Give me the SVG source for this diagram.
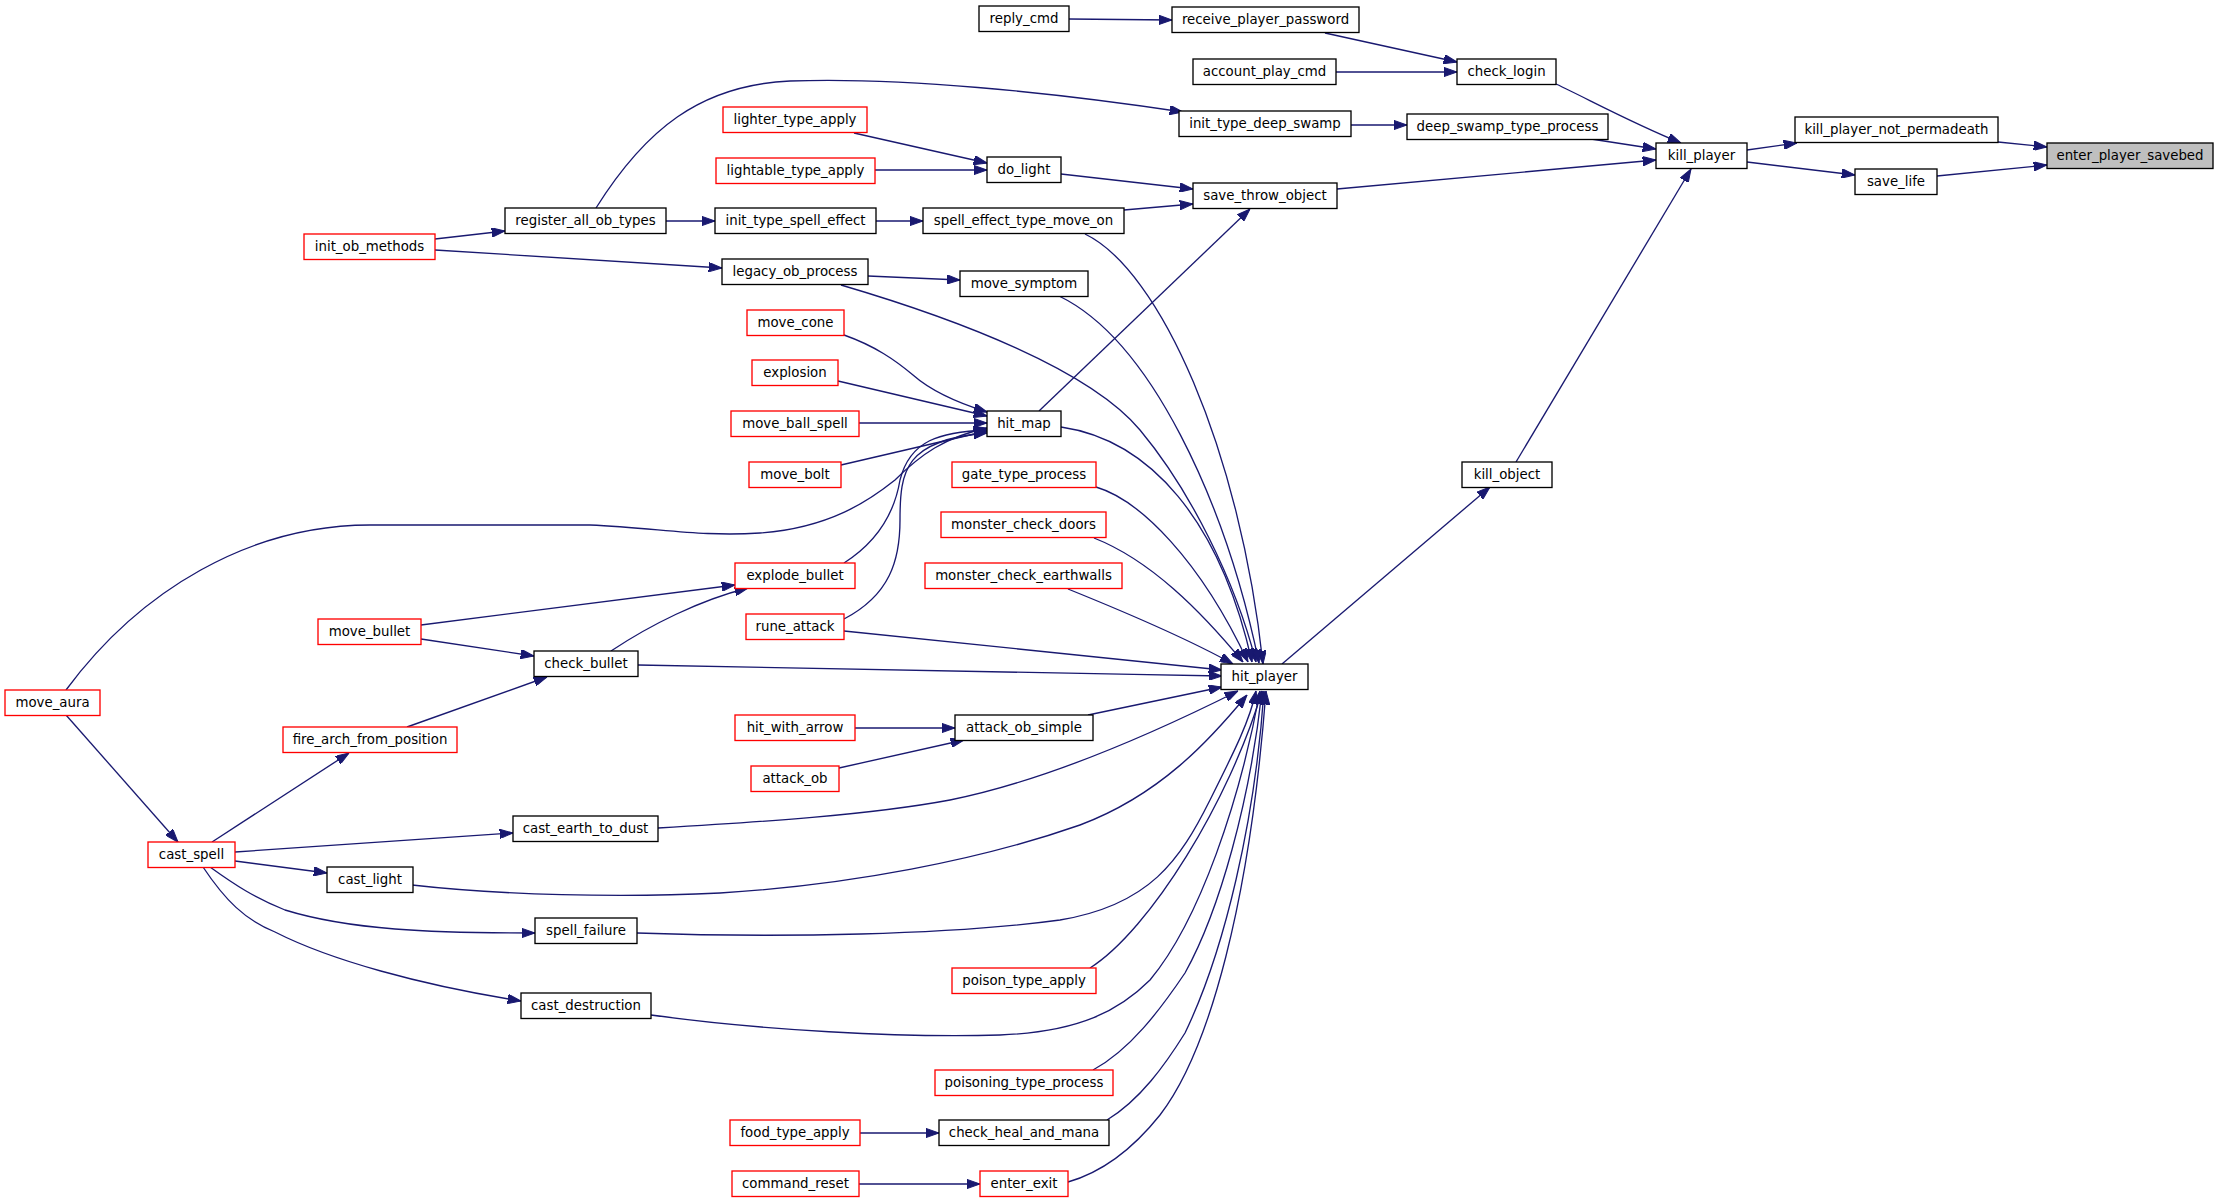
<svg xmlns="http://www.w3.org/2000/svg" width="2219" height="1203" viewBox="0 0 2219 1203">
<defs>
<marker id="ah" viewBox="0 0 13.3 9.4" refX="13.3" refY="4.7" markerWidth="13.3" markerHeight="9.4" markerUnits="userSpaceOnUse" orient="auto">
<polygon points="0,0 13.3,4.7 0,9.4" fill="#191970" stroke="#191970" stroke-width="1"/>
</marker>
</defs>
<style>
.n rect{fill:#ffffff;stroke:#000000;stroke-width:1.33}
.r rect{stroke:#ff0000}
.g rect{fill:#bfbfbf}
text{font-family:"DejaVu Sans","Liberation Sans",sans-serif;font-size:13.33px;text-anchor:middle;fill:#000}
#edges path{fill:none;stroke:#191970;stroke-width:1.33;marker-end:url(#ah)}
</style>
<rect width="2219" height="1203" fill="#ffffff"/>
<g id="edges">
<path d="M1069,19 L1172,20"/>
<path d="M1325,33 L1457,62"/>
<path d="M1336,72 L1457,72"/>
<path d="M1556,84 C1590,100 1630,122 1681,143"/>
<path d="M1351,125 L1407,125"/>
<path d="M1591,139 L1656,149"/>
<path d="M1337,189 L1656,160"/>
<path d="M1516,462 L1691,169"/>
<path d="M1747,150 L1797,143"/>
<path d="M1747,162 L1855,175"/>
<path d="M1998,142 L2047,147"/>
<path d="M1937,176 L2047,165"/>
<path d="M596,208 C645,130 700,85 790,81 C900,77 1050,92 1183,112"/>
<path d="M854,133 L987,163"/>
<path d="M875,170 L987,170"/>
<path d="M1061,174 L1193,189"/>
<path d="M1124,210 L1193,204"/>
<path d="M1039,411 L1250,209"/>
<path d="M435,239 L505,231"/>
<path d="M435,250 L722,268"/>
<path d="M666,221 L715,221"/>
<path d="M876,221 L923,221"/>
<path d="M868,276 L960,280"/>
<path d="M1282,664 L1490,487"/>
<path d="M1085,234 C1160,270 1240,450 1263,664"/>
<path d="M841,285 C960,320 1090,370 1140,430 C1190,490 1235,580 1256,662"/>
<path d="M1059,296 C1150,340 1225,500 1259,663"/>
<path d="M1061,427 C1150,440 1220,520 1252,662"/>
<path d="M844,335 C875,346 895,360 913,375 C930,390 955,402 987,412"/>
<path d="M838,381 L987,416"/>
<path d="M859,423 L987,423"/>
<path d="M841,465 L987,431"/>
<path d="M66,690 C140,590 250,525 370,525 L590,525 C660,528 700,537 760,533 C830,528 870,500 895,480 C920,455 945,437 987,428"/>
<path d="M844,563 C880,540 895,510 900,480 C910,440 940,432 987,430"/>
<path d="M844,619 C890,595 900,560 900,520 C900,470 905,440 987,433"/>
<path d="M1096,487 C1140,500 1200,560 1248,662"/>
<path d="M1094,538 C1150,560 1200,610 1243,662"/>
<path d="M1068,589 C1120,610 1190,640 1233,664"/>
<path d="M844,631 L1222,670"/>
<path d="M638,665 C760,668 1000,672 1222,676"/>
<path d="M1088,715 L1222,687"/>
<path d="M658,828 C760,822 870,815 950,800 C1050,780 1160,730 1238,691"/>
<path d="M412,885 C500,895 620,898 720,893 C850,885 980,860 1080,825 C1160,795 1210,740 1247,695"/>
<path d="M637,933 C780,938 950,935 1060,920 C1150,905 1180,860 1210,800 C1235,750 1250,720 1256,691"/>
<path d="M1090,968 C1150,930 1230,800 1262,691"/>
<path d="M651,1015 C760,1030 900,1038 1000,1035 C1080,1032 1120,1010 1150,980 C1200,920 1240,800 1260,691"/>
<path d="M1093,1070 C1130,1050 1160,1010 1185,973 C1220,910 1250,800 1262,691"/>
<path d="M1107,1120 C1140,1100 1165,1065 1185,1033 C1225,950 1255,820 1264,691"/>
<path d="M1068,1182 C1110,1170 1140,1140 1160,1115 C1210,1050 1250,900 1266,691"/>
<path d="M421,625 L735,585"/>
<path d="M611,651 C650,625 700,600 748,588"/>
<path d="M421,639 L534,656"/>
<path d="M407,727 L547,677"/>
<path d="M212,842 L349,753"/>
<path d="M66,715 L178,842"/>
<path d="M855,728 L955,728"/>
<path d="M839,768 L964,740"/>
<path d="M235,852 L513,833"/>
<path d="M235,861 L327,873"/>
<path d="M210,867 C235,885 255,898 285,910 C350,930 430,933 535,933"/>
<path d="M203,867 C225,900 245,920 275,932 C330,960 420,985 521,1001"/>
<path d="M860,1133 L939,1133"/>
<path d="M859,1184 L980,1184"/>
</g>
<g id="reply_cmd" class="n"><rect x="979" y="6" width="90" height="25.5"/><text x="1024" y="23.4">reply_cmd</text></g>
<g id="receive_player_password" class="n"><rect x="1172" y="7" width="187" height="25.5"/><text x="1265.5" y="24.4">receive_player_password</text></g>
<g id="account_play_cmd" class="n"><rect x="1193" y="59" width="143" height="25.5"/><text x="1264.5" y="76.4">account_play_cmd</text></g>
<g id="check_login" class="n"><rect x="1457" y="59" width="99" height="25.5"/><text x="1506.5" y="76.4">check_login</text></g>
<g id="init_type_deep_swamp" class="n"><rect x="1179" y="111" width="172" height="25.5"/><text x="1265" y="128.4">init_type_deep_swamp</text></g>
<g id="deep_swamp_type_process" class="n"><rect x="1407" y="114" width="201" height="25.5"/><text x="1507.5" y="131.4">deep_swamp_type_process</text></g>
<g id="kill_player" class="n"><rect x="1656" y="143" width="91" height="25.5"/><text x="1701.5" y="160.4">kill_player</text></g>
<g id="kill_player_not_permadeath" class="n"><rect x="1795" y="117" width="203" height="25.5"/><text x="1896.5" y="134.4">kill_player_not_permadeath</text></g>
<g id="enter_player_savebed" class="n g"><rect x="2047" y="143" width="166" height="25.5"/><text x="2130" y="160.4">enter_player_savebed</text></g>
<g id="save_life" class="n"><rect x="1855" y="169" width="82" height="25.5"/><text x="1896" y="186.4">save_life</text></g>
<g id="lighter_type_apply" class="n r"><rect x="723" y="107" width="144" height="25.5"/><text x="795" y="124.4">lighter_type_apply</text></g>
<g id="lightable_type_apply" class="n r"><rect x="716" y="158" width="159" height="25.5"/><text x="795.5" y="175.4">lightable_type_apply</text></g>
<g id="do_light" class="n"><rect x="987" y="157" width="74" height="25.5"/><text x="1024" y="174.4">do_light</text></g>
<g id="save_throw_object" class="n"><rect x="1193" y="183" width="144" height="25.5"/><text x="1265" y="200.4">save_throw_object</text></g>
<g id="init_ob_methods" class="n r"><rect x="304" y="234" width="131" height="25.5"/><text x="369.5" y="251.4">init_ob_methods</text></g>
<g id="register_all_ob_types" class="n"><rect x="505" y="208" width="161" height="25.5"/><text x="585.5" y="225.4">register_all_ob_types</text></g>
<g id="init_type_spell_effect" class="n"><rect x="715" y="208" width="161" height="25.5"/><text x="795.5" y="225.4">init_type_spell_effect</text></g>
<g id="spell_effect_type_move_on" class="n"><rect x="923" y="208" width="201" height="25.5"/><text x="1023.5" y="225.4">spell_effect_type_move_on</text></g>
<g id="legacy_ob_process" class="n"><rect x="722" y="259" width="146" height="25.5"/><text x="795" y="276.4">legacy_ob_process</text></g>
<g id="move_symptom" class="n"><rect x="960" y="271" width="128" height="25.5"/><text x="1024" y="288.4">move_symptom</text></g>
<g id="move_cone" class="n r"><rect x="747" y="310" width="97" height="25.5"/><text x="795.5" y="327.4">move_cone</text></g>
<g id="explosion" class="n r"><rect x="752" y="360" width="86" height="25.5"/><text x="795" y="377.4">explosion</text></g>
<g id="move_ball_spell" class="n r"><rect x="731" y="411" width="128" height="25.5"/><text x="795" y="428.4">move_ball_spell</text></g>
<g id="hit_map" class="n"><rect x="987" y="411" width="74" height="25.5"/><text x="1024" y="428.4">hit_map</text></g>
<g id="move_bolt" class="n r"><rect x="749" y="462" width="92" height="25.5"/><text x="795" y="479.4">move_bolt</text></g>
<g id="gate_type_process" class="n r"><rect x="952" y="462" width="144" height="25.5"/><text x="1024" y="479.4">gate_type_process</text></g>
<g id="kill_object" class="n"><rect x="1462" y="462" width="90" height="25.5"/><text x="1507" y="479.4">kill_object</text></g>
<g id="monster_check_doors" class="n r"><rect x="941" y="512" width="165" height="25.5"/><text x="1023.5" y="529.4">monster_check_doors</text></g>
<g id="monster_check_earthwalls" class="n r"><rect x="925" y="563" width="197" height="25.5"/><text x="1023.5" y="580.4">monster_check_earthwalls</text></g>
<g id="explode_bullet" class="n r"><rect x="735" y="563" width="120" height="25.5"/><text x="795" y="580.4">explode_bullet</text></g>
<g id="rune_attack" class="n r"><rect x="746" y="614" width="98" height="25.5"/><text x="795" y="631.4">rune_attack</text></g>
<g id="move_bullet" class="n r"><rect x="318" y="619" width="103" height="25.5"/><text x="369.5" y="636.4">move_bullet</text></g>
<g id="check_bullet" class="n"><rect x="534" y="651" width="104" height="25.5"/><text x="586" y="668.4">check_bullet</text></g>
<g id="hit_player" class="n"><rect x="1221" y="664" width="87" height="25.5"/><text x="1264.5" y="681.4">hit_player</text></g>
<g id="move_aura" class="n r"><rect x="5" y="690" width="95" height="25.5"/><text x="52.5" y="707.4">move_aura</text></g>
<g id="hit_with_arrow" class="n r"><rect x="735" y="715" width="120" height="25.5"/><text x="795" y="732.4">hit_with_arrow</text></g>
<g id="attack_ob_simple" class="n"><rect x="955" y="715" width="138" height="25.5"/><text x="1024" y="732.4">attack_ob_simple</text></g>
<g id="fire_arch_from_position" class="n r"><rect x="283" y="727" width="174" height="25.5"/><text x="370" y="744.4">fire_arch_from_position</text></g>
<g id="attack_ob" class="n r"><rect x="751" y="766" width="88" height="25.5"/><text x="795" y="783.4">attack_ob</text></g>
<g id="cast_earth_to_dust" class="n"><rect x="513" y="816" width="145" height="25.5"/><text x="585.5" y="833.4">cast_earth_to_dust</text></g>
<g id="cast_spell" class="n r"><rect x="148" y="842" width="87" height="25.5"/><text x="191.5" y="859.4">cast_spell</text></g>
<g id="cast_light" class="n"><rect x="327" y="867" width="86" height="25.5"/><text x="370" y="884.4">cast_light</text></g>
<g id="spell_failure" class="n"><rect x="535" y="918" width="102" height="25.5"/><text x="586" y="935.4">spell_failure</text></g>
<g id="poison_type_apply" class="n r"><rect x="952" y="968" width="144" height="25.5"/><text x="1024" y="985.4">poison_type_apply</text></g>
<g id="cast_destruction" class="n"><rect x="521" y="993" width="130" height="25.5"/><text x="586" y="1010.4">cast_destruction</text></g>
<g id="poisoning_type_process" class="n r"><rect x="935" y="1070" width="178" height="25.5"/><text x="1024" y="1087.4">poisoning_type_process</text></g>
<g id="food_type_apply" class="n r"><rect x="730" y="1120" width="130" height="25.5"/><text x="795" y="1137.4">food_type_apply</text></g>
<g id="check_heal_and_mana" class="n"><rect x="939" y="1120" width="170" height="25.5"/><text x="1024" y="1137.4">check_heal_and_mana</text></g>
<g id="command_reset" class="n r"><rect x="732" y="1171" width="127" height="25.5"/><text x="795.5" y="1188.4">command_reset</text></g>
<g id="enter_exit" class="n r"><rect x="980" y="1171" width="88" height="25.5"/><text x="1024" y="1188.4">enter_exit</text></g>
</svg>
